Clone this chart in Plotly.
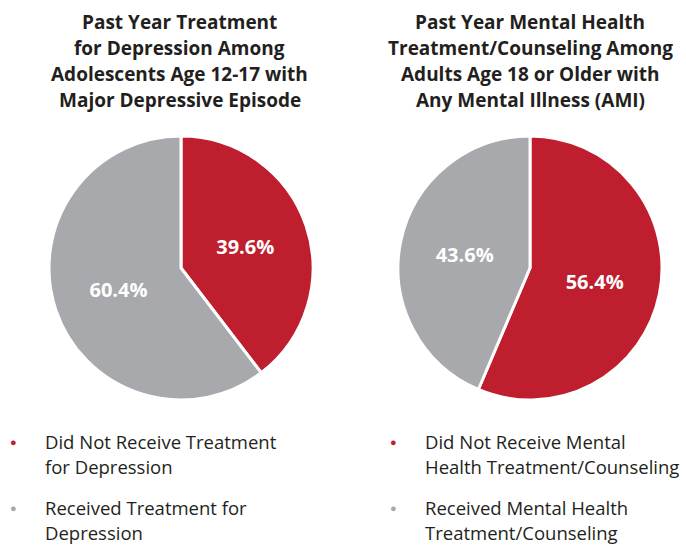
import plotly.graph_objects as go

# data
left_labels = ["Did Not Receive Treatment for Depression", "Received Treatment for Depression"]
left_values = [39.6, 60.4]
right_labels = ["Did Not Receive Mental Health Treatment/Counseling",
                "Received Mental Health Treatment/Counseling"]
right_values = [56.4, 43.6]

left_title = ["Past Year Treatment", "for Depression Among",
              "Adolescents Age 12-17 with", "Major Depressive Episode"]
right_title = ["Past Year Mental Health", "Treatment/Counseling Among",
               "Adults Age 18 or Older with", "Any Mental Illness (AMI)"]
left_legend = [["Did Not Receive Treatment", "for Depression"],
               ["Received Treatment for", "Depression"]]
right_legend = [["Did Not Receive Mental", "Health Treatment/Counseling"],
                ["Received Mental Health", "Treatment/Counseling"]]

RED = "#BE1E2D"
GRAY = "#A7A9AC"
INK = "#231F20"
W, H = 686, 546
FONT = "Open Sans"


def px(x):
    return x / W


def py(y):
    return 1 - y / H


def pie(values, labels, x0, x1):
    return go.Pie(
        values=values,
        labels=labels,
        text=["%.1f%%" % v for v in values],
        textinfo="text",
        hoverinfo="label+text",
        sort=False,
        direction="clockwise",
        rotation=0,
        marker=dict(colors=[RED, GRAY], line=dict(color="white", width=3)),
        textfont=dict(family=FONT, size=20, color="white", weight="bold"),
        insidetextorientation="horizontal",
        domain=dict(x=[px(x0), px(x1)], y=[py(400), py(136)]),
        showlegend=False,
    )


fig = go.Figure()
fig.add_trace(pie(left_values, left_labels, 49, 313))
fig.add_trace(pie(right_values, right_labels, 398, 662))

ann = []
for cx, lines in [(180, left_title), (530, right_title)]:
    for i, t in enumerate(lines):
        ann.append(dict(x=px(cx), y=py(22 + 26 * i), text="<b>%s</b>" % t,
                        xanchor="center", yanchor="middle", showarrow=False,
                        font=dict(family=FONT, size=19, color=INK)))

for bx, tx, items in [(13, 43, left_legend), (393, 423, right_legend)]:
    for k, (lines, col) in enumerate(zip(items, [RED, GRAY])):
        y0 = 441 + 66 * k
        ann.append(dict(x=px(bx), y=py(y0), text="●", xanchor="center", yanchor="middle",
                        showarrow=False, font=dict(family=FONT, size=11, color=col)))
        for i, t in enumerate(lines):
            ann.append(dict(x=px(tx), y=py(y0 + 25 * i), text=t, xanchor="left",
                            yanchor="middle", showarrow=False,
                            font=dict(family=FONT, size=18.5, color=INK)))

fig.update_layout(
    width=W, height=H,
    margin=dict(l=0, r=0, t=0, b=0),
    paper_bgcolor="white",
    annotations=ann,
)
# drop the page's default 8px body margin so the figure fills the window
fig.write_html("out.html", config={"displayModeBar": False},
               post_script="document.body.style.margin='0';")
